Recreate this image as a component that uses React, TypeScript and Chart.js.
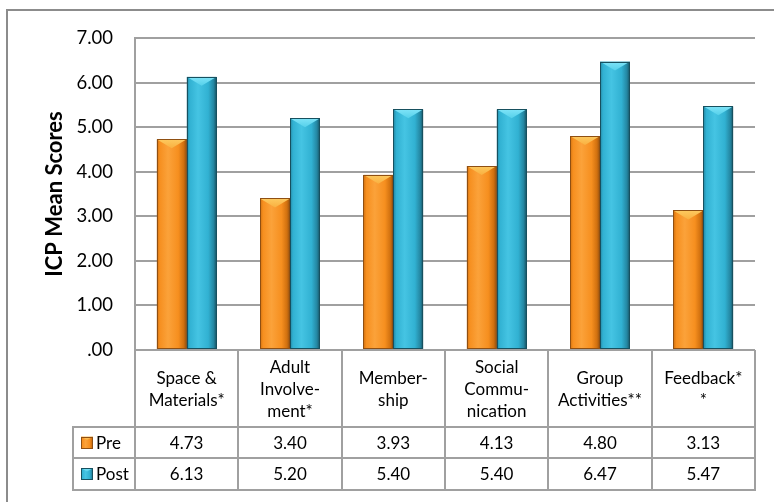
import React, { useEffect, useRef } from "react";
import { Chart, registerables } from "chart.js";

Chart.register(...registerables);

// Activity categories (multi-line labels as shown under the bars)
const categories: string[][] = [
  ["Space &", "Materials*"],
  ["Adult", "Involve-", "ment*"],
  ["Member-", "ship"],
  ["Social", "Commu-", "nication"],
  ["Group", "Activities**"],
  ["Feedback*", "*"],
];
const seriesNames = ["Pre", "Post"];
const preScores = [4.73, 3.4, 3.93, 4.13, 4.8, 3.13];
const postScores = [6.13, 5.2, 5.4, 5.4, 6.47, 5.47];
const yMin = 0;
const yMax = 7;
const yStep = 1;
const yTitle = "ICP Mean Scores";

const FONT = "Lato, 'Open Sans', sans-serif";
const GRID = "#a0a0a0";

type Shade = {
  edge: string;
  dark: string;
  body: string;
  hi: string;
  top: string;
  topDark: string;
};

const preShade: Shade = {
  edge: "#8f4f12",
  dark: "#d0700f",
  body: "#f68f1f",
  hi: "#fba23a",
  top: "#fdca60",
  topDark: "#f9b040",
};
const postShade: Shade = {
  edge: "#17505f",
  dark: "#2486a1",
  body: "#31b1d2",
  hi: "#45c4e3",
  top: "#7fe4f8",
  topDark: "#55d0ea",
};
const shades = [preShade, postShade];

// Paints one bevelled bar (or legend swatch) inside the given box.
function paintBevel(
  ctx: CanvasRenderingContext2D,
  left: number,
  top: number,
  right: number,
  bottom: number,
  s: Shade
) {
  const w = right - left;
  const h = bottom - top;
  if (w <= 0 || h <= 0) return;
  ctx.save();
  ctx.beginPath();
  ctx.rect(left, top, w, h);
  ctx.clip();

  const g = ctx.createLinearGradient(left, 0, right, 0);
  g.addColorStop(0, s.dark);
  g.addColorStop(0.1, s.body);
  g.addColorStop(0.38, s.hi);
  g.addColorStop(0.72, s.body);
  g.addColorStop(0.9, s.dark);
  g.addColorStop(1, s.edge);
  ctx.fillStyle = g;
  ctx.fillRect(left, top, w, h);

  // top bevel face: a downward-pointing wedge
  const bh = Math.min(w * 0.3, h);
  const tg = ctx.createLinearGradient(0, top, 0, top + bh);
  tg.addColorStop(0, s.top);
  tg.addColorStop(1, s.topDark);
  ctx.fillStyle = tg;
  ctx.beginPath();
  ctx.moveTo(left, top);
  ctx.lineTo(right, top);
  ctx.lineTo(left + w / 2, top + bh);
  ctx.closePath();
  ctx.fill();
  ctx.restore();

  ctx.save();
  ctx.strokeStyle = s.edge;
  ctx.lineWidth = 1;
  ctx.strokeRect(
    Math.round(left) + 0.5,
    Math.round(top) + 0.5,
    Math.round(w) - 1,
    Math.round(h) - 1
  );
  ctx.restore();
}

const bevelBars = {
  id: "bevelBars",
  afterDatasetsDraw(chart: Chart) {
    const ctx = chart.ctx;
    chart.data.datasets.forEach((_, di) => {
      const meta = chart.getDatasetMeta(di);
      meta.data.forEach((el: any) => {
        const { x, y, base, width } = el.getProps(["x", "y", "base", "width"], true);
        paintBevel(ctx, x - width / 2, Math.min(y, base), x + width / 2, Math.max(y, base), shades[di]);
      });
    });
  },
};

// Data table under the plot plus the outer frame
const dataTable = {
  id: "dataTable",
  afterDraw(chart: Chart) {
    const { ctx, chartArea } = chart;
    const xs: any = chart.scales.x;
    const top = chartArea.bottom;
    const headerBottom = top + 77;
    const rowMid = headerBottom + 31;
    const tableBottom = rowMid + 32;
    const legendLeft = chartArea.left - 62;
    const half = (xs.getPixelForValue(1) - xs.getPixelForValue(0)) / 2;

    ctx.save();
    ctx.strokeStyle = GRID;
    ctx.lineWidth = 2;
    ctx.beginPath();
    // verticals
    ctx.moveTo(chartArea.left, top);
    ctx.lineTo(chartArea.left, tableBottom + 1);
    for (let i = 0; i < categories.length; i++) {
      const bx = Math.round(xs.getPixelForValue(i) + half);
      ctx.moveTo(bx, top);
      ctx.lineTo(bx, tableBottom + 1);
    }
    ctx.moveTo(legendLeft, headerBottom - 1);
    ctx.lineTo(legendLeft, tableBottom + 1);
    // horizontals
    for (const hy of [headerBottom, rowMid, tableBottom]) {
      ctx.moveTo(legendLeft - 1, hy);
      ctx.lineTo(chartArea.right + 1, hy);
    }
    ctx.stroke();

    const series = [preScores, postScores];
    const rowCenters = [(headerBottom + rowMid) / 2, (rowMid + tableBottom) / 2];
    ctx.fillStyle = "#000";
    ctx.font = `17px ${FONT}`;
    ctx.textBaseline = "middle";
    series.forEach((vals, r) => {
      const cy = rowCenters[r];
      ctx.textAlign = "center";
      vals.forEach((v, i) => {
        ctx.fillText(v.toFixed(2), xs.getPixelForValue(i), cy + 1);
      });
      paintBevel(ctx, legendLeft + 8, cy - 6, legendLeft + 20, cy + 6, shades[r]);
      ctx.textAlign = "left";
      ctx.fillStyle = "#000";
      ctx.fillText(seriesNames[r], legendLeft + 23, cy + 1);
    });

    // outer frame
    ctx.strokeStyle = "#8c8c8c";
    ctx.lineWidth = 2;
    ctx.strokeRect(7, 10, 820, 620);
    ctx.restore();
  },
};

export default function App() {
  const canvasRef = useRef<HTMLCanvasElement | null>(null);

  useEffect(() => {
    const canvas = canvasRef.current;
    if (!canvas) return;
    const chart = new Chart(canvas, {
      type: "bar",
      data: {
        labels: categories,
        datasets: [
          {
            label: seriesNames[0],
            data: preScores,
            backgroundColor: preShade.body,
            borderColor: preShade.edge,
            borderWidth: 1,
            borderSkipped: false,
          },
          {
            label: seriesNames[1],
            data: postScores,
            backgroundColor: postShade.body,
            borderColor: postShade.edge,
            borderWidth: 1,
            borderSkipped: false,
          },
        ],
      },
      options: {
        responsive: false,
        animation: false,
        devicePixelRatio: 1,
        layout: { padding: { left: 0, right: 19, top: 38, bottom: 0 } },
        datasets: {
          bar: { categoryPercentage: 0.58, barPercentage: 1 },
        },
        plugins: {
          legend: { display: false },
          tooltip: { enabled: false },
        },
        scales: {
          x: {
            grid: { display: false, drawTicks: false },
            border: { display: false },
            ticks: {
              color: "#000",
              font: { family: FONT, size: 17, lineHeight: 22 / 17 },
              padding: 18,
              maxRotation: 0,
              autoSkip: false,
              crossAlign: "center",
            },
            afterFit(scale: any) {
              scale.height = 152;
            },
          },
          y: {
            min: yMin,
            max: yMax,
            grid: { color: GRID, lineWidth: 2, drawTicks: false },
            border: { display: true, color: GRID, width: 2 },
            ticks: {
              stepSize: yStep,
              color: "#000",
              padding: 22,
              font: { family: FONT, size: 18.5 },
              callback: (v: any) => (Number(v) === 0 ? ".00" : Number(v).toFixed(2)),
            },
            title: {
              display: true,
              text: yTitle,
              color: "#000",
              font: { family: FONT, size: 22, weight: "bold", lineHeight: 1.2 },
              padding: { top: 42, bottom: 0 },
            },
            afterFit(scale: any) {
              scale.width = 135;
            },
          },
        },
      },
      plugins: [bevelBars, dataTable],
    });
    return () => chart.destroy();
  }, []);

  return (
    <div style={{ position: "fixed", left: 0, top: 0, width: 774, height: 502, background: "#fff" }}>
      <canvas ref={canvasRef} width={774} height={502} style={{ display: "block" }} />
    </div>
  );
}
